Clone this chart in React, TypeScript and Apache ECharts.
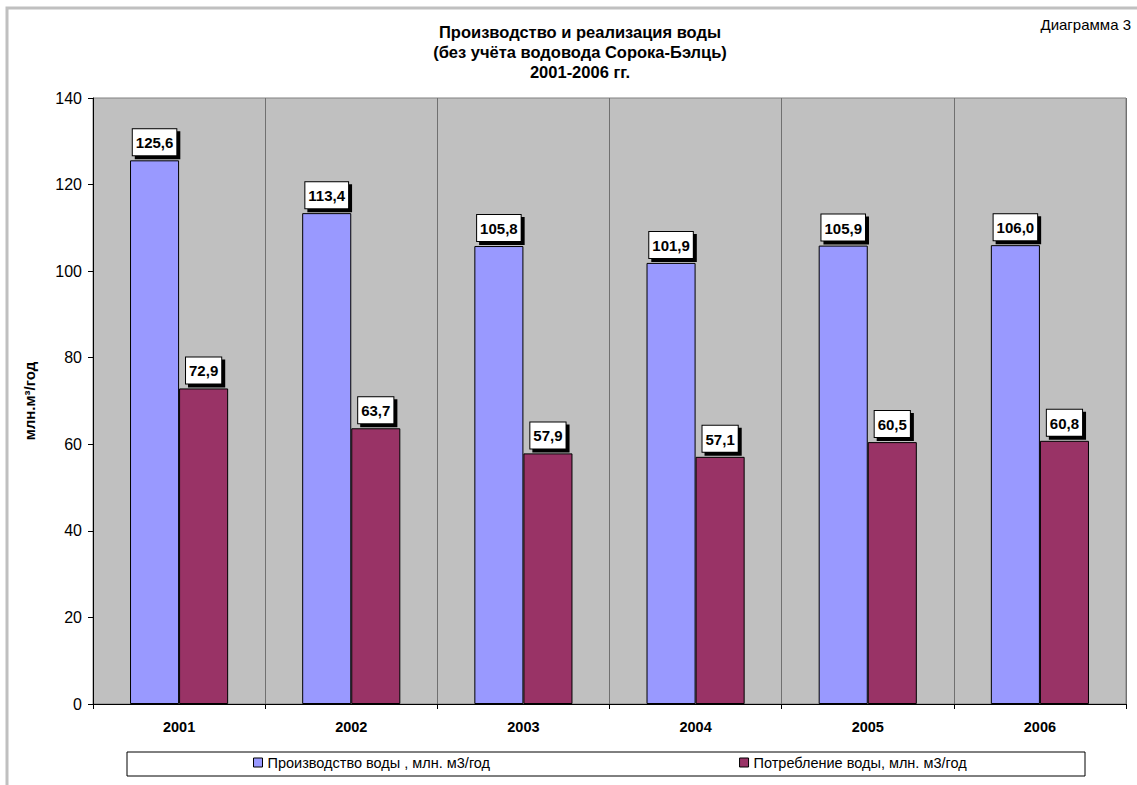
import React, { useEffect, useRef } from "react";
import * as echarts from "echarts";

const years = ["2001", "2002", "2003", "2004", "2005", "2006"];
const production = [125.6, 113.4, 105.8, 101.9, 105.9, 106.0];
const consumption = [72.9, 63.7, 57.9, 57.1, 60.5, 60.8];
const seriesNames = ["Производство воды , млн. м3/год", "Потребление воды, млн. м3/год"];
const titleLines = [
  "Производство и реализация воды",
  "(без учёта водовода Сорока-Бэлць)",
  "2001-2006 гг.",
];
const cornerNote = "Диаграмма 3";
const yAxisName = "млн.м³/год";

const FONT = "'Liberation Sans', Arial, sans-serif";

export default function App() {
  const ref = useRef<HTMLDivElement>(null);
  useEffect(() => {
    document.body.style.margin = "0";
    const chart = echarts.init(ref.current!, null, { renderer: "svg" });
    const label = {
      show: true,
      position: "top",
      distance: 5,
      formatter: (p: any) => Number(p.value).toFixed(1).replace(".", ","),
      fontFamily: FONT,
      fontWeight: "bold",
      fontSize: 15,
      color: "#000",
      backgroundColor: "#fff",
      borderColor: "#000",
      borderWidth: 1,
      padding: [6, 3, 5, 3],
      shadowColor: "#000",
      shadowOffsetX: 3,
      shadowOffsetY: 3,
      shadowBlur: 0,
    };
    chart.setOption({
      animation: false,
      backgroundColor: "#fff",
      textStyle: { fontFamily: FONT },
      grid: {
        left: 93,
        right: 11,
        top: 98,
        bottom: 81,
        show: true,
        backgroundColor: "#c0c0c0",
        borderColor: "#808080",
        borderWidth: 1,
      },
      legend: {
        left: 253,
        top: 755,
        padding: 0,
        itemGap: 249,
        itemWidth: 9,
        itemHeight: 9,
        icon: "rect",
        textStyle: { fontFamily: FONT, fontSize: 14.5, color: "#000" },
        itemStyle: { borderColor: "#000", borderWidth: 1 },
        data: seriesNames,
      },
      xAxis: {
        type: "category",
        data: years,
        axisLine: { lineStyle: { color: "#000", width: 1 } },
        axisTick: { show: true, length: 5, lineStyle: { color: "#000" } },
        axisLabel: {
          fontFamily: FONT,
          fontWeight: "bold",
          fontSize: 14.5,
          color: "#000",
          margin: 15,
        },
        splitLine: { show: true, lineStyle: { color: "#707070", width: 1 } },
      },
      yAxis: {
        type: "value",
        min: 0,
        max: 140,
        interval: 20,
        name: yAxisName,
        nameLocation: "middle",
        nameRotate: 90,
        nameGap: 56,
        nameTextStyle: { fontFamily: FONT, fontWeight: "bold", fontSize: 15, color: "#000" },
        axisLine: { show: true, lineStyle: { color: "#000", width: 1 } },
        axisTick: { show: true, length: 5, lineStyle: { color: "#000" } },
        axisLabel: { fontFamily: FONT, fontSize: 16, color: "#000", margin: 11 },
        splitLine: { show: false },
      },
      series: [
        {
          name: seriesNames[0],
          type: "bar",
          data: production,
          barGap: "0%",
          barCategoryGap: "43%",
          itemStyle: { color: "#9999ff", borderColor: "#000", borderWidth: 1 },
          label,
        },
        {
          name: seriesNames[1],
          type: "bar",
          data: consumption,
          barGap: "0%",
          barCategoryGap: "43%",
          itemStyle: { color: "#993366", borderColor: "#000", borderWidth: 1 },
          label,
        },
      ],
      graphic: [
        {
          type: "rect",
          shape: { x: 7, y: 8, width: 1160, height: 820 },
          style: { fill: "none", stroke: "#c0c0c0", lineWidth: 3 },
          silent: true,
          z: -10,
        },
        {
          type: "rect",
          shape: { x: 127, y: 752, width: 958, height: 24 },
          style: { fill: "#fff", stroke: "#000", lineWidth: 1 },
          silent: true,
          z: -5,
        },
        {
          type: "text",
          x: 580,
          y: 22,
          style: {
            text: titleLines.join("\n"),
            fontFamily: FONT,
            fontWeight: "bold",
            fontSize: 16.5,
            lineHeight: 20,
            align: "center",
            verticalAlign: "top",
            fill: "#000",
          },
        },
        {
          type: "text",
          x: 1131,
          y: 17,
          style: {
            text: cornerNote,
            fontFamily: FONT,
            fontSize: 15,
            align: "right",
            verticalAlign: "top",
            fill: "#000",
          },
        },
      ],
    });
    return () => chart.dispose();
  }, []);
  return (
    <div
      ref={ref}
      style={{ position: "absolute", left: 0, top: 0, width: 1137, height: 785 }}
    />
  );
}
